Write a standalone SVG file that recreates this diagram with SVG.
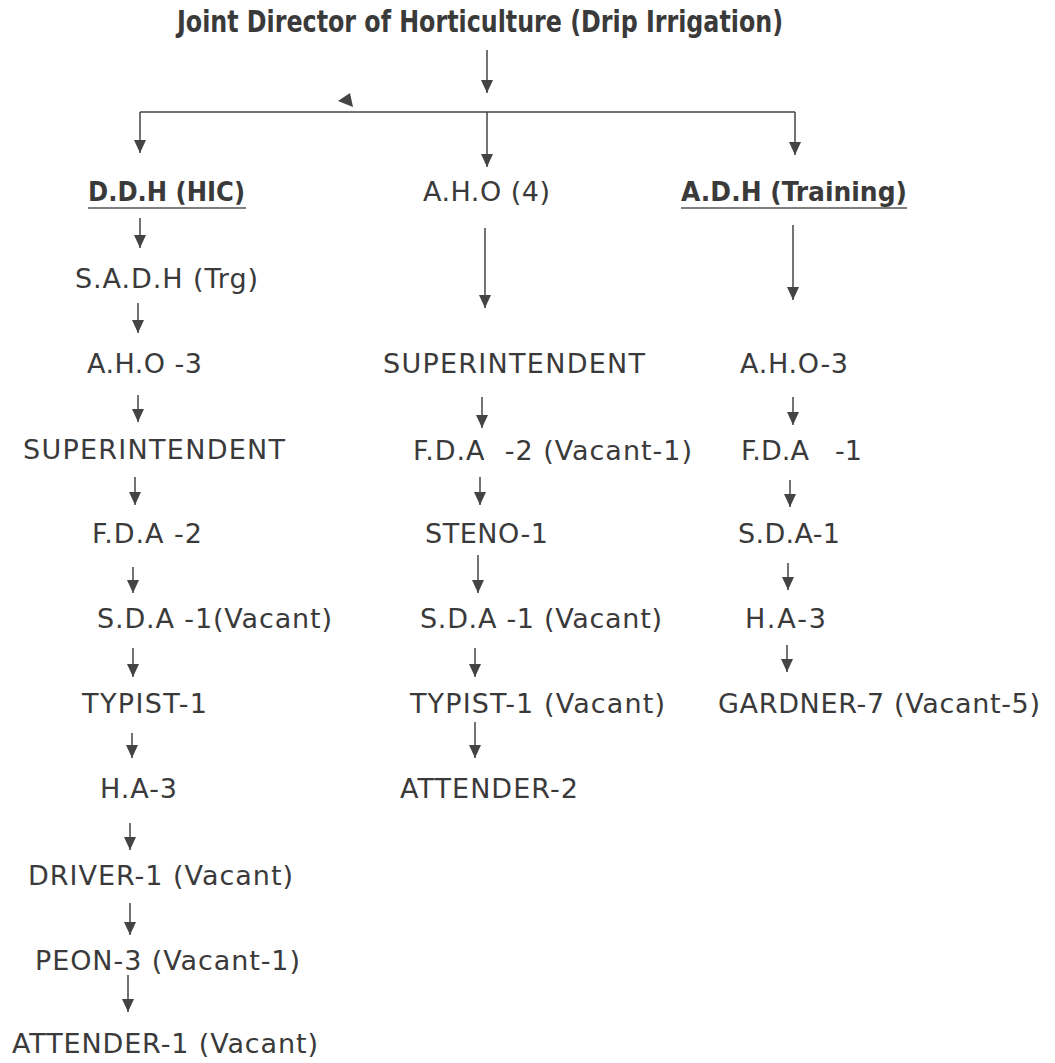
<svg xmlns="http://www.w3.org/2000/svg" width="1055" height="1063" viewBox="0 0 1055 1063">
<defs>
<style>
.t{font-family:"DejaVu Sans","Liberation Sans",sans-serif;font-size:27px;fill:#3a3a3a;white-space:pre}
.b{font-family:"DejaVu Sans Condensed","DejaVu Sans","Liberation Sans",sans-serif;font-size:27px;font-weight:bold;fill:#3a3a3a;white-space:pre}
.h{font-size:30px}
.c line{stroke:#444;stroke-width:1.5;fill:none}
.c .a{marker-end:url(#ah)}
.u{stroke:#555;stroke-width:1.5}
</style>
<marker id="ah" markerUnits="userSpaceOnUse" markerWidth="14" markerHeight="12" refX="13" refY="6" orient="auto" viewBox="0 0 14 12">
<path d="M0,0 L13,6 L0,12 z" fill="#444"/>
</marker>
</defs>
<rect width="1055" height="1063" fill="#fff"/>

<g id="connectors" class="c">
<line class="a" x1="487" y1="50" x2="487" y2="93"/>
<line x1="140" y1="112" x2="795" y2="112"/>
<line class="a" x1="140" y1="112" x2="140" y2="153"/>
<line class="a" x1="487" y1="112" x2="487" y2="167"/>
<line class="a" x1="795" y1="112" x2="795" y2="155"/>
<polygon points="338,101 350,93 353,107" fill="#444" stroke="none"/>
<!-- left column -->
<line class="a" x1="140" y1="218" x2="140" y2="248"/>
<line class="a" x1="138" y1="303" x2="138" y2="333"/>
<line class="a" x1="138" y1="395" x2="138" y2="422"/>
<line class="a" x1="135" y1="477" x2="135" y2="505"/>
<line class="a" x1="133" y1="567" x2="133" y2="593"/>
<line class="a" x1="133" y1="648" x2="133" y2="677"/>
<line class="a" x1="132" y1="733" x2="132" y2="758"/>
<line class="a" x1="130" y1="823" x2="130" y2="850"/>
<line class="a" x1="130" y1="903" x2="130" y2="935"/>
<line class="a" x1="128" y1="975" x2="128" y2="1012"/>
<!-- middle column -->
<line class="a" x1="485" y1="228" x2="485" y2="308"/>
<line class="a" x1="482" y1="397" x2="482" y2="428"/>
<line class="a" x1="480" y1="477" x2="480" y2="505"/>
<line class="a" x1="478" y1="555" x2="478" y2="593"/>
<line class="a" x1="475" y1="648" x2="475" y2="677"/>
<line class="a" x1="475" y1="722" x2="475" y2="758"/>
<!-- right column -->
<line class="a" x1="793" y1="225" x2="793" y2="300"/>
<line class="a" x1="793" y1="397" x2="793" y2="425"/>
<line class="a" x1="790" y1="480" x2="790" y2="507"/>
<line class="a" x1="788" y1="563" x2="788" y2="590"/>
<line class="a" x1="787" y1="645" x2="787" y2="672"/>
</g>

<g id="jdh"><text class="b h" x="177" y="32" textLength="606" lengthAdjust="spacingAndGlyphs">Joint Director of Horticulture (Drip Irrigation)</text></g>

<g id="ddh"><text class="b" x="88" y="201" textLength="157" lengthAdjust="spacingAndGlyphs">D.D.H (HIC)</text><line class="u" x1="88" y1="208" x2="246" y2="208"/></g>
<g id="l1"><text class="t" x="75" y="288" textLength="183">S.A.D.H (Trg)</text></g>
<g id="l2"><text class="t" x="87" y="373" textLength="115">A.H.O -3</text></g>
<g id="l3"><text class="t" x="23" y="459" textLength="262">SUPERINTENDENT</text></g>
<g id="l4"><text class="t" x="92" y="543" textLength="110">F.D.A -2</text></g>
<g id="l5"><text class="t" x="97" y="628" textLength="235">S.D.A -1(Vacant)</text></g>
<g id="l6"><text class="t" x="82" y="713" textLength="125">TYPIST-1</text></g>
<g id="l7"><text class="t" x="100" y="798" textLength="77">H.A-3</text></g>
<g id="l8"><text class="t" x="28" y="885" textLength="265">DRIVER-1 (Vacant)</text></g>
<g id="l9"><text class="t" x="35" y="970" textLength="265">PEON-3 (Vacant-1)</text></g>
<g id="l10"><text class="t" x="12" y="1053" textLength="306">ATTENDER-1 (Vacant)</text></g>

<g id="aho4"><text class="t" x="423" y="201" textLength="127">A.H.O (4)</text></g>
<g id="m1"><text class="t" x="383" y="373" textLength="262">SUPERINTENDENT</text></g>
<g id="m2"><text class="t" x="413" y="460" textLength="279">F.D.A  -2 (Vacant-1)</text></g>
<g id="m3"><text class="t" x="425" y="543" textLength="123">STENO-1</text></g>
<g id="m4"><text class="t" x="420" y="628" textLength="242">S.D.A -1 (Vacant)</text></g>
<g id="m5"><text class="t" x="410" y="713" textLength="255">TYPIST-1 (Vacant)</text></g>
<g id="m6"><text class="t" x="400" y="798" textLength="178">ATTENDER-2</text></g>

<g id="adh"><text class="b" x="681" y="201" textLength="226" lengthAdjust="spacingAndGlyphs">A.D.H (Training)</text><line class="u" x1="681" y1="208" x2="907" y2="208"/></g>
<g id="r1"><text class="t" x="740" y="373" textLength="108">A.H.O-3</text></g>
<g id="r2"><text class="t" x="741" y="460" textLength="121">F.D.A   -1</text></g>
<g id="r3"><text class="t" x="738" y="543" textLength="102">S.D.A-1</text></g>
<g id="r4"><text class="t" x="745" y="628" textLength="81">H.A-3</text></g>
<g id="r5"><text class="t" x="718" y="713" textLength="322">GARDNER-7 (Vacant-5)</text></g>
</svg>
